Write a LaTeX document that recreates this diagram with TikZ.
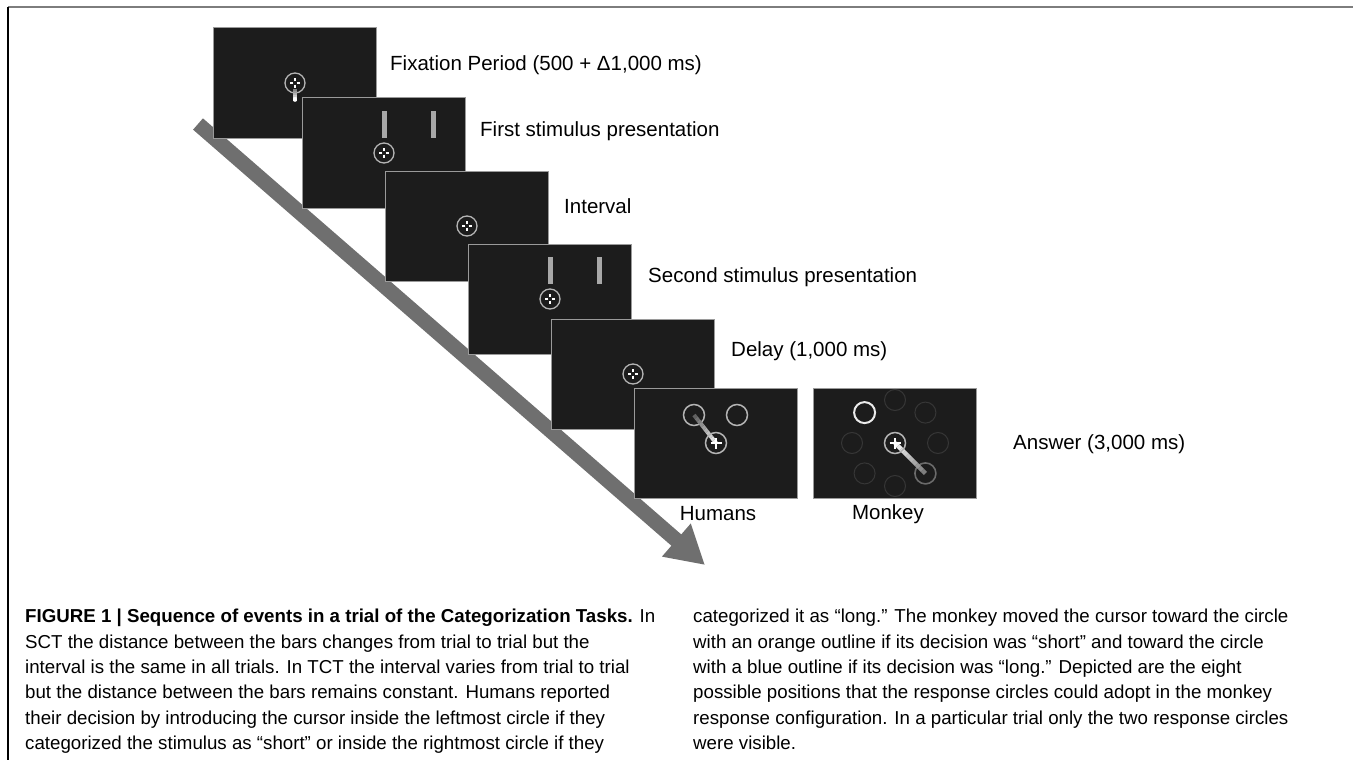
\documentclass[tikz,border=0pt]{standalone}
\usepackage{fontspec}
\setmainfont{Liberation Sans}
\newfontfamily\capfont{Liberation Sans}
\usetikzlibrary{positioning,calc,arrows.meta}

\definecolor{panelbg}{HTML}{1C1C1C}
\definecolor{panelrim}{HTML}{9A9A9A}
\definecolor{arrowgray}{HTML}{6F6F6F}
\definecolor{barcol}{HTML}{A8A8A8}
\definecolor{ringgray}{HTML}{B4B4B4}
\definecolor{faintring}{HTML}{363636}

\tikzset{
  panel/.style={draw=panelrim, line width=1pt, fill=panelbg, inner sep=0pt,
    minimum width=163pt, minimum height=110pt},
  lbl/.style={anchor=west, inner sep=0pt, font=\fontsize{20.5}{24}\selectfont},
  sublbl/.style={inner sep=0pt, font=\fontsize{20.5}{24}\selectfont},
  captext/.style={anchor=north west, inner sep=0pt, align=left,
    font=\capfont\fontsize{18.7}{25.4}\selectfont},
  stimbar/.style={fill=barcol, draw=none},
  timearrow/.style={draw=arrowgray, line width=15pt,
    -{Triangle[length=38pt,width=41pt]}},
  fixcross/.pic={
    \draw[ringgray, line width=1.3pt] (0,0) circle (10pt);
    \foreach \a in {0,90,180,270}
      \draw[white, line width=1.6pt] (\a:1.6pt) -- (\a:4.6pt);
  },
  answercross/.pic={
    \draw[ringgray, line width=1.5pt] (0,0) circle (10.5pt);
    \draw[white, line width=2.4pt] (-5.5pt,0) -- (5.5pt,0) (0,-5.5pt) -- (0,5.5pt);
  }
}

\begin{document}
\begin{tikzpicture}[x=1pt, y=-1pt]
\useasboundingbox (0,0) rectangle (1353,760);

% frame of the figure
\coordinate (framecorner) at (8,7);
\coordinate (frameright) at (1353,7);
\coordinate (framebottom) at (8,760);
\draw[color=arrowgray!90, line width=2pt] (framecorner) -- (frameright);
\draw[black, line width=1.3pt] (framecorner) -- (framebottom);

% time arrow behind the screens
\coordinate (arrowtail) at (198,124);
\coordinate (arrowtip) at (705,565);
\draw[timearrow] (arrowtail) -- (arrowtip);

% screens of the trial
\node[panel] (fix) at (295,83) {};
\pic at (fix.center) {fixcross};
\foreach \t in {0,...,5}
  \draw[white!\the\numexpr 45+\t*11\relax!panelbg, line width=3.6pt]
    ($(fix.center)+(0,6+\t*2)$) -- ($(fix.center)+(0,8+\t*2)$);
\draw[white, line width=3.6pt, line cap=round] ($(fix.center)+(0,16)$) -- ($(fix.center)+(0,17)$);

\node[panel] (first) at (384,153) {};
\fill[stimbar] ($(first.center)+(-2.5,-42)$) rectangle ($(first.center)+(2.5,-15)$);
\fill[stimbar] ($(first.center)+(46.5,-42)$) rectangle ($(first.center)+(51.5,-15)$);
\pic at (first.center) {fixcross};

\node[panel] (interval) at (467,226) {};
\pic at (interval.center) {fixcross};

\node[panel] (second) at (550,299) {};
\fill[stimbar] ($(second.center)+(-2.5,-42)$) rectangle ($(second.center)+(2.5,-15)$);
\fill[stimbar] ($(second.center)+(46.5,-42)$) rectangle ($(second.center)+(51.5,-15)$);
\pic at (second.center) {fixcross};

\node[panel] (delay) at (633,374) {};
\pic at (delay.center) {fixcross};

% answer screens
\node[panel] (humans) at (716,443) {};
\coordinate (humshort) at (694,415);
\coordinate (humlong) at (737,415);
\draw[ringgray, line width=1.5pt] (humshort) circle (10.5pt);
\draw[ringgray, line width=1.5pt] (humlong) circle (10.5pt);
\foreach \t in {0,...,9}
  \draw[white!\the\numexpr 30+\t*7\relax!panelbg, line width=4pt]
    ($(humshort)!\t/10!(humans.center)$) -- ($(humshort)!\t/10+0.1!(humans.center)$);
\pic at (humans.center) {answercross};

\node[panel] (monkey) at (895,443) {};
\foreach \a in {0,45,90,180,225,270}
  \draw[faintring, line width=1pt] ($(monkey.center)+(\a:43pt)$) circle (10.5pt);
\coordinate (monshort) at ($(monkey.center)+(135:43pt)$);
\coordinate (monlong) at ($(monkey.center)+(-45:43pt)$);
\draw[white!92!black, line width=2pt] (monshort) circle (10.5pt);
\draw[white!35!panelbg, line width=1.6pt] (monlong) circle (10.5pt);
\foreach \t in {0,...,9}
  \draw[white!\the\numexpr 97-\t*6\relax!panelbg, line width=4.5pt]
    ($(monkey.center)!\t/10!(monlong)$) -- ($(monkey.center)!\t/10+0.1!(monlong)$);
\pic at (monkey.center) {answercross};

% labels
\node[lbl] (fixlbl) at (390,65) {Fixation Period (500 + Δ1,000 ms)};
\node[lbl] (firstlbl) at (480,131) {First stimulus presentation};
\node[lbl] (intervallbl) at (564,206) {Interval};
\node[lbl] (secondlbl) at (648,277) {Second stimulus presentation};
\node[lbl] (delaylbl) at (731,351) {Delay (1,000 ms)};
\node[lbl] (answerlbl) at (1013,444) {Answer (3,000 ms)};
\node[sublbl] (humlbl) at (718,514) {Humans};
\node[sublbl] (monlbl) at (888,514) {Monkey};

% caption
\node[captext] (capleft) at (25,609) {\textbf{FIGURE 1 | Sequence of events in a trial of the Categorization Tasks.} In\\
SCT the distance between the bars changes from trial to trial but the\\
interval is the same in all trials. In TCT the interval varies from trial to trial\\
but the distance between the bars remains constant. Humans reported\\
their decision by introducing the cursor inside the leftmost circle if they\\
categorized the stimulus as “short” or inside the rightmost circle if they};
\node[captext] (capright) at (693,609) {categorized it as “long.” The monkey moved the cursor toward the circle\\
with an orange outline if its decision was “short” and toward the circle\\
with a blue outline if its decision was “long.” Depicted are the eight\\
possible positions that the response circles could adopt in the monkey\\
response configuration. In a particular trial only the two response circles\\
were visible.};
\end{tikzpicture}
\end{document}
